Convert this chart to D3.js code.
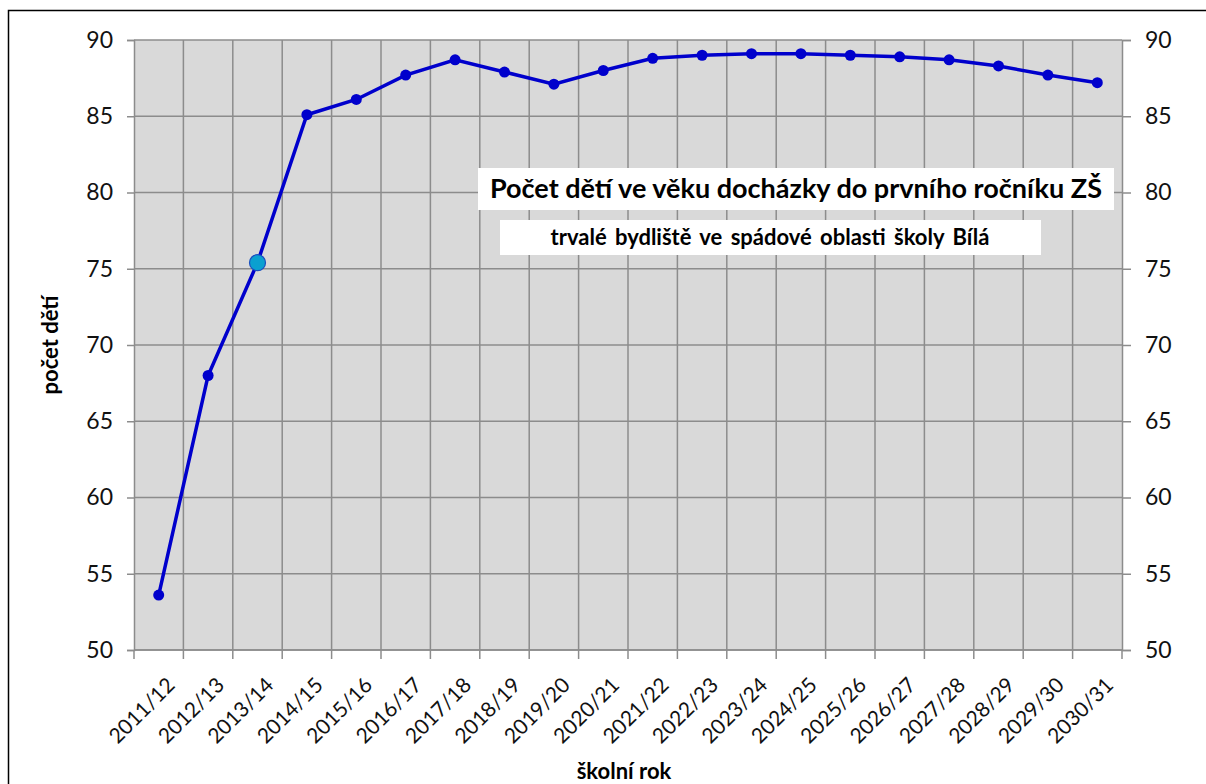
<!DOCTYPE html>
<html>
<head>
<meta charset="utf-8">
<script src="https://cdn.jsdelivr.net/npm/d3@7"></script>
<style>
  body { margin: 0; background: #fff; }
  text { font-family: Lato, "Open Sans", sans-serif; }
</style>
</head>
<body>
<div id="chart"></div>
<script>
const years = ["2011/12", "2012/13", "2013/14", "2014/15", "2015/16", "2016/17", "2017/18",
  "2018/19", "2019/20", "2020/21", "2021/22", "2022/23", "2023/24", "2024/25",
  "2025/26", "2026/27", "2027/28", "2028/29", "2029/30", "2030/31"];
const children = [53.6, 68.0, 75.4, 85.1, 86.1, 87.7, 88.7, 87.9, 87.1, 88.0, 88.8,
  89.0, 89.1, 89.1, 89.0, 88.9, 88.7, 88.3, 87.7, 87.2];
const highlightYear = "2013/14";
const yTicks = [50, 55, 60, 65, 70, 75, 80, 85, 90];

const width = 1206, height = 784;
const margin = { top: 40, right: 84, bottom: 134, left: 134 };
const w = width - margin.left - margin.right,
      h = height - margin.top - margin.bottom;

const svg = d3.select("#chart").append("svg")
    .attr("width", width)
    .attr("height", height);

// outer chart border (runs off the page right and bottom)
svg.append("rect")
    .attr("x", 8.5).attr("y", 10.5)
    .attr("width", 1300).attr("height", 900)
    .attr("fill", "none")
    .attr("stroke", "#000")
    .attr("stroke-width", 1.5);

const g = svg.append("g")
    .attr("transform", "translate(" + margin.left + "," + margin.top + ")");

const x = d3.scaleBand().domain(years).range([0, w]);
const y = d3.scaleLinear().domain([50, 90]).range([h, 0]);

g.append("rect")
    .attr("width", w).attr("height", h)
    .attr("fill", "#d9d9d9");

// vertical grid at category borders
g.selectAll(".vgrid")
    .data(years.slice(1))
  .enter().append("line")
    .attr("x1", d => x(d)).attr("x2", d => x(d))
    .attr("y1", 0).attr("y2", h)
    .attr("stroke", "#8c8c8c").attr("stroke-width", 1.5);

g.selectAll(".hgrid")
    .data(yTicks)
  .enter().append("line")
    .attr("x1", 0).attr("x2", w)
    .attr("y1", d => y(d)).attr("y2", d => y(d))
    .attr("stroke", "#8c8c8c").attr("stroke-width", 1.5);

// left and right axes
const yLeft = g.append("g")
    .call(d3.axisLeft(y).tickValues(yTicks).tickSize(7).tickPadding(14));
const yRight = g.append("g")
    .attr("transform", "translate(" + w + ",0)")
    .call(d3.axisRight(y).tickValues(yTicks).tickSize(9).tickPadding(14));

[yLeft, yRight].forEach(ax => {
  ax.select(".domain").attr("stroke", "#8c8c8c").attr("stroke-width", 1.5);
  ax.selectAll(".tick line").attr("stroke", "#8c8c8c").attr("stroke-width", 1.5);
  ax.selectAll(".tick text")
      .attr("fill", "#111")
      .style("font-size", "23px");
});

// x axis: ticks at band edges, labels rotated
const xAxis = g.append("g")
    .attr("transform", "translate(0," + h + ")");
xAxis.append("line")
    .attr("x1", 0).attr("x2", w)
    .attr("stroke", "#8c8c8c").attr("stroke-width", 1.5);
xAxis.selectAll(".xtick")
    .data(years.concat([null]))
  .enter().append("line")
    .attr("x1", (d, i) => i * x.bandwidth())
    .attr("x2", (d, i) => i * x.bandwidth())
    .attr("y1", 0).attr("y2", 9)
    .attr("stroke", "#8c8c8c").attr("stroke-width", 1.5);
xAxis.selectAll(".xlabel")
    .data(years)
  .enter().append("text")
    .attr("transform", d => "translate(" + (x(d) + x.bandwidth() / 2 + 7) + ",26) rotate(-45)")
    .attr("text-anchor", "end")
    .attr("dy", "0.7em")
    .attr("fill", "#111")
    .style("font-size", "21px")
    .text(d => d);

// line + markers
const line = d3.line()
    .x((d, i) => x(years[i]) + x.bandwidth() / 2)
    .y(d => y(d));

g.append("path")
    .datum(children)
    .attr("d", line)
    .attr("fill", "none")
    .attr("stroke", "#0000cc")
    .attr("stroke-width", 3.5);

g.selectAll(".dot")
    .data(children)
  .enter().append("circle")
    .attr("cx", (d, i) => x(years[i]) + x.bandwidth() / 2)
    .attr("cy", d => y(d))
    .attr("r", (d, i) => years[i] === highlightYear ? 8 : 5.5)
    .attr("fill", (d, i) => years[i] === highlightYear ? "#0aa0d0" : "#0000cc")
    .attr("stroke", (d, i) => years[i] === highlightYear ? "#1a4fc0" : "none")
    .attr("stroke-width", 1.2);

// title boxes
svg.append("rect")
    .attr("x", 478).attr("y", 168).attr("width", 636).attr("height", 42)
    .attr("fill", "#fff");
svg.append("text")
    .attr("x", 796).attr("y", 198)
    .attr("text-anchor", "middle")
    .style("font-size", "27px").style("font-weight", "bold")
    .attr("fill", "#000")
    .text("Počet dětí ve věku docházky do prvního ročníku ZŠ");

svg.append("rect")
    .attr("x", 500).attr("y", 220).attr("width", 541).attr("height", 35)
    .attr("fill", "#fff");
svg.append("text")
    .attr("x", 770).attr("y", 245)
    .attr("text-anchor", "middle")
    .style("font-size", "22px").style("font-weight", "bold")
    .style("word-spacing", "3px")
    .attr("fill", "#000")
    .text("trvalé bydliště ve spádové oblasti školy Bílá");

// axis titles
svg.append("text")
    .attr("transform", "translate(58,345) rotate(-90)")
    .attr("text-anchor", "middle")
    .style("font-size", "22px").style("font-weight", "bold")
    .attr("fill", "#000")
    .text("počet dětí");

svg.append("text")
    .attr("x", margin.left + w / 2 - 4).attr("y", 779)
    .attr("text-anchor", "middle")
    .style("font-size", "22px").style("font-weight", "bold")
    .attr("fill", "#000")
    .text("školní rok");
</script>
</body>
</html>
